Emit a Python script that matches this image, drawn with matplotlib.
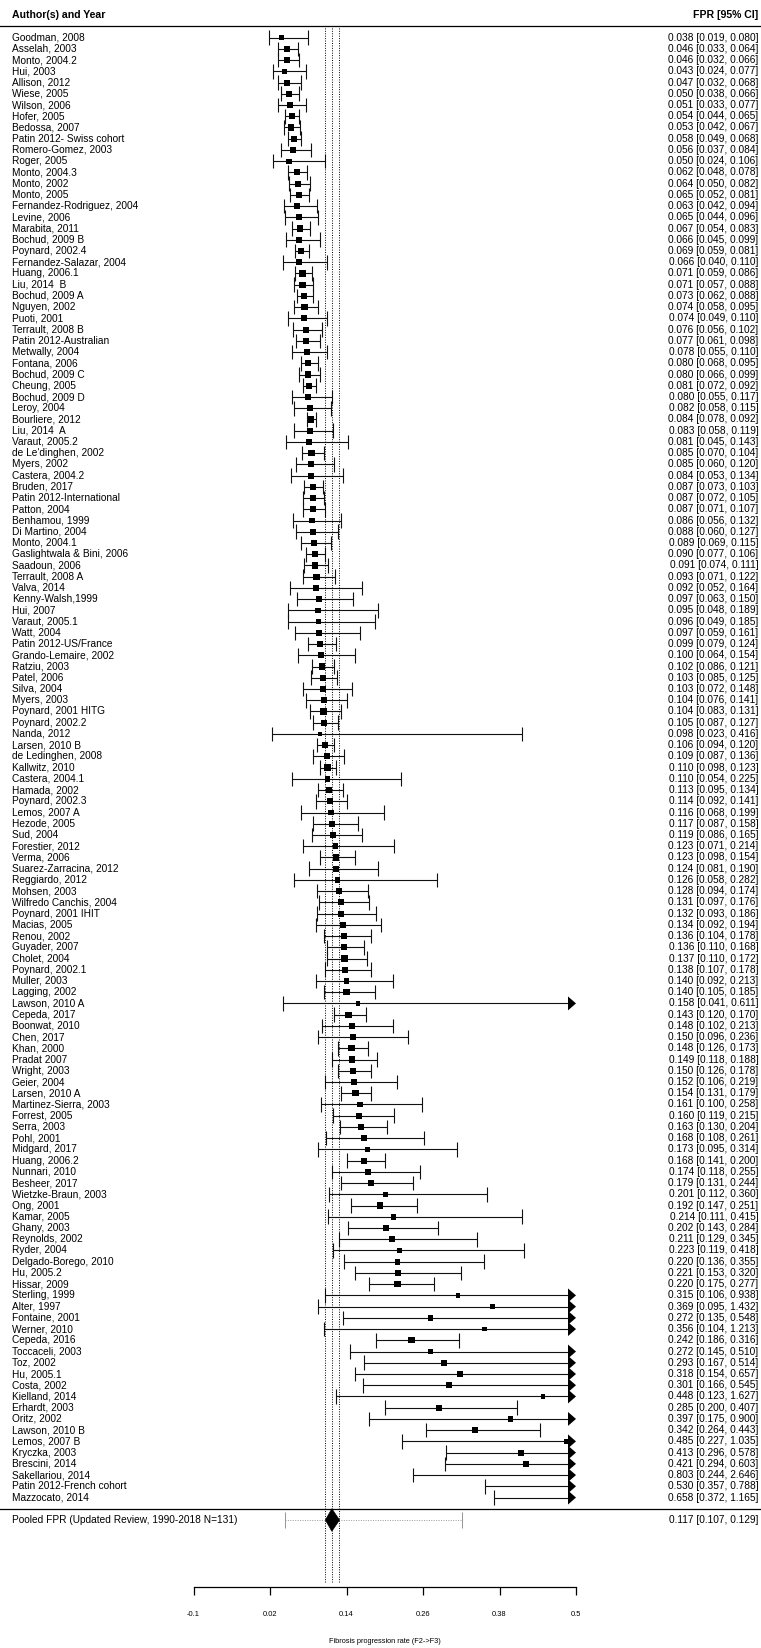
import numpy as np
import matplotlib
matplotlib.use("Agg")
import matplotlib.pyplot as plt
from matplotlib.patches import Polygon
from matplotlib.transforms import blended_transform_factory

plt.rcParams['font.family'] = ['Liberation Sans', 'DejaVu Sans']

# STUDY DATA (fibrosis progression rate F2->F3, 95% CI)
studies = [
    "Goodman, 2008", "Asselah, 2003", "Monto, 2004.2", "Hui, 2003", "Allison, 2012",
    "Wiese, 2005", "Wilson, 2006", "Hofer, 2005", "Bedossa, 2007", "Patin 2012- Swiss cohort",
    "Romero-Gomez, 2003", "Roger, 2005", "Monto, 2004.3", "Monto, 2002", "Monto, 2005",
    "Fernandez-Rodriguez, 2004", "Levine, 2006", "Marabita, 2011", "Bochud, 2009 B", "Poynard, 2002.4",
    "Fernandez-Salazar, 2004", "Huang, 2006.1", "Liu, 2014  B", "Bochud, 2009 A", "Nguyen, 2002",
    "Puoti, 2001", "Terrault, 2008 B", "Patin 2012-Australian", "Metwally, 2004", "Fontana, 2006",
    "Bochud, 2009 C", "Cheung, 2005", "Bochud, 2009 D", "Leroy, 2004", "Bourliere, 2012",
    "Liu, 2014  A", "Varaut, 2005.2", "de Le'dinghen, 2002", "Myers, 2002", "Castera, 2004.2",
    "Bruden, 2017", "Patin 2012-International", "Patton, 2004", "Benhamou, 1999", "Di Martino, 2004",
    "Monto, 2004.1", "Gaslightwala & Bini, 2006", "Saadoun, 2006", "Terrault, 2008 A", "Valva, 2014",
    "Kenny-Walsh,1999", "Hui, 2007", "Varaut, 2005.1", "Watt, 2004", "Patin 2012-US/France",
    "Grando-Lemaire, 2002", "Ratziu, 2003", "Patel, 2006", "Silva, 2004", "Myers, 2003",
    "Poynard, 2001 HITG", "Poynard, 2002.2", "Nanda, 2012", "Larsen, 2010 B", "de Ledinghen, 2008",
    "Kallwitz, 2010", "Castera, 2004.1", "Hamada, 2002", "Poynard, 2002.3", "Lemos, 2007 A",
    "Hezode, 2005", "Sud, 2004", "Forestier, 2012", "Verma, 2006", "Suarez-Zarracina, 2012",
    "Reggiardo, 2012", "Mohsen, 2003", "Wilfredo Canchis, 2004", "Poynard, 2001 IHIT", "Macias, 2005",
    "Renou, 2002", "Guyader, 2007", "Cholet, 2004", "Poynard, 2002.1", "Muller, 2003",
    "Lagging, 2002", "Lawson, 2010 A", "Cepeda, 2017", "Boonwat, 2010", "Chen, 2017",
    "Khan, 2000", "Pradat 2007", "Wright, 2003", "Geier, 2004", "Larsen, 2010 A",
    "Martinez-Sierra, 2003", "Forrest, 2005", "Serra, 2003", "Pohl, 2001", "Midgard, 2017",
    "Huang, 2006.2", "Nunnari, 2010", "Besheer, 2017", "Wietzke-Braun, 2003", "Ong, 2001",
    "Kamar, 2005", "Ghany, 2003", "Reynolds, 2002", "Ryder, 2004", "Delgado-Borego, 2010",
    "Hu, 2005.2", "Hissar, 2009", "Sterling, 1999", "Alter, 1997", "Fontaine, 2001",
    "Werner, 2010", "Cepeda, 2016", "Toccaceli, 2003", "Toz, 2002", "Hu, 2005.1",
    "Costa, 2002", "Kielland, 2014", "Erhardt, 2003", "Oritz, 2002", "Lawson, 2010 B",
    "Lemos, 2007 B", "Kryczka, 2003", "Brescini, 2014", "Sakellariou, 2014", "Patin 2012-French cohort",
    "Mazzocato, 2014",
]

fpr = [
    0.038, 0.046, 0.046, 0.043, 0.047, 0.050, 0.051, 0.054, 0.053, 0.058,
    0.056, 0.050, 0.062, 0.064, 0.065, 0.063, 0.065, 0.067, 0.066, 0.069,
    0.066, 0.071, 0.071, 0.073, 0.074, 0.074, 0.076, 0.077, 0.078, 0.080,
    0.080, 0.081, 0.080, 0.082, 0.084, 0.083, 0.081, 0.085, 0.085, 0.084,
    0.087, 0.087, 0.087, 0.086, 0.088, 0.089, 0.090, 0.091, 0.093, 0.092,
    0.097, 0.095, 0.096, 0.097, 0.099, 0.100, 0.102, 0.103, 0.103, 0.104,
    0.104, 0.105, 0.098, 0.106, 0.109, 0.110, 0.110, 0.113, 0.114, 0.116,
    0.117, 0.119, 0.123, 0.123, 0.124, 0.126, 0.128, 0.131, 0.132, 0.134,
    0.136, 0.136, 0.137, 0.138, 0.140, 0.140, 0.158, 0.143, 0.148, 0.150,
    0.148, 0.149, 0.150, 0.152, 0.154, 0.161, 0.160, 0.163, 0.168, 0.173,
    0.168, 0.174, 0.179, 0.201, 0.192, 0.214, 0.202, 0.211, 0.223, 0.220,
    0.221, 0.220, 0.315, 0.369, 0.272, 0.356, 0.242, 0.272, 0.293, 0.318,
    0.301, 0.448, 0.285, 0.397, 0.342, 0.485, 0.413, 0.421, 0.803, 0.530,
    0.658,
]

ci_lower = [
    0.019, 0.033, 0.032, 0.024, 0.032, 0.038, 0.033, 0.044, 0.042, 0.049,
    0.037, 0.024, 0.048, 0.050, 0.052, 0.042, 0.044, 0.054, 0.045, 0.059,
    0.040, 0.059, 0.057, 0.062, 0.058, 0.049, 0.056, 0.061, 0.055, 0.068,
    0.066, 0.072, 0.055, 0.058, 0.078, 0.058, 0.045, 0.070, 0.060, 0.053,
    0.073, 0.072, 0.071, 0.056, 0.060, 0.069, 0.077, 0.074, 0.071, 0.052,
    0.063, 0.048, 0.049, 0.059, 0.079, 0.064, 0.086, 0.085, 0.072, 0.076,
    0.083, 0.087, 0.023, 0.094, 0.087, 0.098, 0.054, 0.095, 0.092, 0.068,
    0.087, 0.086, 0.071, 0.098, 0.081, 0.058, 0.094, 0.097, 0.093, 0.092,
    0.104, 0.110, 0.110, 0.107, 0.092, 0.105, 0.041, 0.120, 0.102, 0.096,
    0.126, 0.118, 0.126, 0.106, 0.131, 0.100, 0.119, 0.130, 0.108, 0.095,
    0.141, 0.118, 0.131, 0.112, 0.147, 0.111, 0.143, 0.129, 0.119, 0.136,
    0.153, 0.175, 0.106, 0.095, 0.135, 0.104, 0.186, 0.145, 0.167, 0.154,
    0.166, 0.123, 0.200, 0.175, 0.264, 0.227, 0.296, 0.294, 0.244, 0.357,
    0.372,
]

ci_upper = [
    0.080, 0.064, 0.066, 0.077, 0.068, 0.066, 0.077, 0.065, 0.067, 0.068,
    0.084, 0.106, 0.078, 0.082, 0.081, 0.094, 0.096, 0.083, 0.099, 0.081,
    0.110, 0.086, 0.088, 0.088, 0.095, 0.110, 0.102, 0.098, 0.110, 0.095,
    0.099, 0.092, 0.117, 0.115, 0.092, 0.119, 0.143, 0.104, 0.120, 0.134,
    0.103, 0.105, 0.107, 0.132, 0.127, 0.115, 0.106, 0.111, 0.122, 0.164,
    0.150, 0.189, 0.185, 0.161, 0.124, 0.154, 0.121, 0.125, 0.148, 0.141,
    0.131, 0.127, 0.416, 0.120, 0.136, 0.123, 0.225, 0.134, 0.141, 0.199,
    0.158, 0.165, 0.214, 0.154, 0.190, 0.282, 0.174, 0.176, 0.186, 0.194,
    0.178, 0.168, 0.172, 0.178, 0.213, 0.185, 0.611, 0.170, 0.213, 0.236,
    0.173, 0.188, 0.178, 0.219, 0.179, 0.258, 0.215, 0.204, 0.261, 0.314,
    0.200, 0.255, 0.244, 0.360, 0.251, 0.415, 0.284, 0.345, 0.418, 0.355,
    0.320, 0.277, 0.938, 1.432, 0.548, 1.213, 0.316, 0.510, 0.514, 0.657,
    0.545, 1.627, 0.407, 0.900, 0.443, 1.035, 0.578, 0.603, 2.646, 0.788,
    1.165,
]

pooled_label = "Pooled FPR (Updated Review, 1990-2018 N=131)"
pooled_fpr = 0.117
pooled_lower = 0.107
pooled_upper = 0.129
pred_lower = 0.044
pred_upper = 0.321

tick_values = [-0.1, 0.02, 0.14, 0.26, 0.38, 0.5]
tick_labels = ["-0.1", "0.02", "0.14", "0.26", "0.38", "0.5"]
x_label = "Fibrosis progression rate (F2->F3)"

# LAYOUT (pixels)
W, H = 761, 1648
X0_PX, X1_PX = 193.5, 576.0
ROW_PX = 11.23
POOLED_PX = 1520.0
AXIS_PX = 1587.0
FS = 7.3

fpr = np.array(fpr)
ci_lower = np.array(ci_lower)
ci_upper = np.array(ci_upper)
k = len(studies)
rows = np.arange(k, 0, -1)

alim = (tick_values[0], tick_values[-1])
ppu = (X1_PX - X0_PX) / (alim[1] - alim[0])   # pixels per unit on x

fig = plt.figure(figsize=(W / 100, H / 100), dpi=100)
ax = fig.add_axes([0, 0, 1, 1])
ax.set_xlim(alim[0] - X0_PX / ppu, alim[0] + (W - X0_PX) / ppu)
ax.set_ylim(-1 - (H - POOLED_PX) / ROW_PX, -1 + POOLED_PX / ROW_PX)
ax.axis('off')
trans = blended_transform_factory(ax.transAxes, ax.transData)

# CONFIDENCE INTERVALS
lw = 0.8
col = '#111111'
clipped = ci_upper > alim[1]
arrow_len = 8 / ppu
arrow_half = 0.62
cap_half = 0.65
line_end = np.where(clipped, alim[1] - arrow_len, ci_upper)
ax.hlines(rows, ci_lower, line_end, color=col, lw=lw)
ax.vlines(ci_lower, rows - cap_half, rows + cap_half, color=col, lw=lw)
ax.vlines(ci_upper[~clipped], rows[~clipped] - cap_half, rows[~clipped] + cap_half, color=col, lw=lw)
for r in rows[clipped]:
    ax.add_patch(Polygon([[alim[1] - arrow_len, r - arrow_half],
                          [alim[1] - arrow_len, r + arrow_half],
                          [alim[1], r]], closed=True, facecolor='black', edgecolor='none'))

# point estimates, square size from the random-effects weight
se = (np.log(ci_upper) - np.log(ci_lower)) / (2 * 1.96)
w = 1 / (se ** 2 + 0.26)
side_px = 3.5 + 2.8 * w / w.max()
shown = fpr <= alim[1]
ax.scatter(fpr[shown], rows[shown], s=(side_px[shown] * 0.72) ** 2, marker='s',
           color='black', linewidths=0, zorder=3)

# POOLED ESTIMATE
ax.add_patch(Polygon([[pooled_lower, -1], [pooled_fpr, 0.0], [pooled_upper, -1], [pooled_fpr, -2.0]],
                     closed=True, facecolor='black', edgecolor='black', lw=0.5, zorder=4))
ax.hlines(-1, pred_lower, pred_upper, color='#999999', lw=0.7, linestyles=(0, (1, 1.5)))
ax.vlines([pred_lower, pred_upper], -1 - 0.7, -1 + 0.7, color='#999999', lw=0.75)

# reference lines at pooled estimate and its CI
ax.vlines([pooled_lower, pooled_fpr, pooled_upper], -1 - 62 / ROW_PX, k + 0.92,
          color='black', lw=0.7, linestyles=(0, (1, 1.5)))

# header and separator
ax.axhline(k + 1, color='black', lw=0.9)
ax.axhline(0, color='black', lw=0.9)

left_x = 12 / W
right_x = 758.5 / W
ax.text(left_x, k + 2, "Author(s) and Year", transform=trans, ha='left', va='center',
        fontsize=7.6, fontweight='bold')
ax.text(right_x, k + 2, "FPR [95% CI]", transform=trans, ha='right', va='center',
        fontsize=7.6, fontweight='bold')

for r, name, v, lo, hi in zip(rows, studies, fpr, ci_lower, ci_upper):
    ax.text(left_x, r, name, transform=trans, ha='left', va='center', fontsize=FS)
    ax.text(right_x, r, f"{v:.3f} [{lo:.3f}, {hi:.3f}]", transform=trans,
            ha='right', va='center', fontsize=FS)

ax.text(left_x, -1, pooled_label, transform=trans, ha='left', va='center', fontsize=FS)
ax.text(right_x, -1, f"{pooled_fpr:.3f} [{pooled_lower:.3f}, {pooled_upper:.3f}]",
        transform=trans, ha='right', va='center', fontsize=FS)

# X AXIS
xax = fig.add_axes([X0_PX / W, 1 - AXIS_PX / H, (X1_PX - X0_PX) / W, 0.0001])
xax.patch.set_alpha(0)
for side in ['top', 'left', 'right']:
    xax.spines[side].set_visible(False)
xax.spines['bottom'].set_linewidth(0.9)
xax.set_xlim(alim)
xax.set_yticks([])
xax.set_xticks(tick_values)
xax.set_xticklabels(tick_labels)
xax.tick_params(axis='x', length=8 * 0.72, width=0.9, labelsize=5.4, pad=11.5)
xax.set_xlabel(x_label, fontsize=5.3, labelpad=14.5)

fig.savefig("out.png", dpi=100)
